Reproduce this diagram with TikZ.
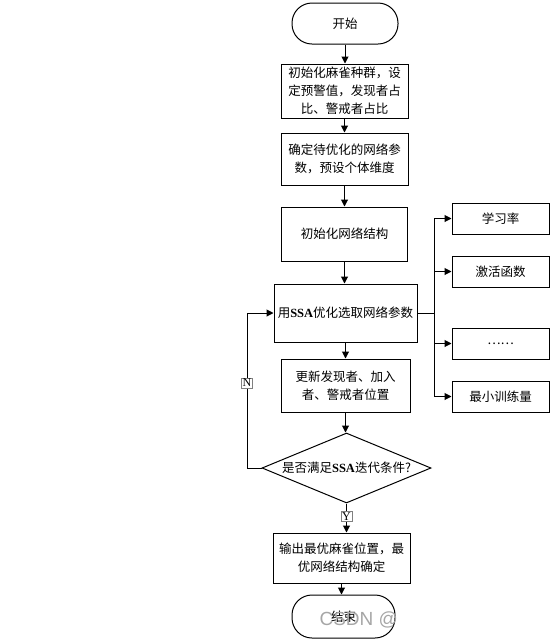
\documentclass[tikz,border=0pt]{standalone}
\usepackage{fontspec}
\setmainfont{Liberation Serif}
\newfontfamily\cjk{Noto Sans CJK SC}
\newfontfamily\wmfont{Liberation Sans}
\usetikzlibrary{arrows.meta,shapes.geometric}
\tikzset{
  base/.style={draw, line width=1pt, inner sep=0pt, align=center,
    font=\cjk\fontsize{12.5}{18}\selectfont},
  procbox/.style={base, rectangle},
  termbox/.style={base, rectangle, rounded corners=20pt},
  decbox/.style={base, diamond, minimum width=169pt, minimum height=70pt},
  flow/.style={line width=1pt, -{Triangle[length=7pt,width=7pt]}},
  plain/.style={line width=1pt},
  yn/.style={draw=gray, line width=0.4pt, fill=white, inner sep=1pt,
    font=\fontsize{12}{12}\selectfont}
}
\begin{document}
\begin{tikzpicture}[x=1pt,y=-1pt]
\useasboundingbox (0,0) rectangle (554,641);
\node[termbox, minimum width=106pt, minimum height=41pt] (start) at (345,23.5) {开始};
\node[procbox, minimum width=127pt, minimum height=54pt] (b1) at (344.5,91) {初始化麻雀种群，设\\定预警值，发现者占\\比、警戒者占比};
\node[procbox, minimum width=127pt, minimum height=52pt] (b2) at (344.5,159) {确定待优化的网络参\\数，预设个体维度};
\node[procbox, minimum width=126pt, minimum height=54pt] (b3) at (344.5,234) {初始化网络结构};
\node[procbox, minimum width=143pt, minimum height=58pt] (b4) at (345.5,313) {用{\rmfamily\bfseries SSA}优化选取网络参数};
\node[procbox, minimum width=129pt, minimum height=53pt] (b5) at (345.5,385.5) {更新发现者、加入\\者、警戒者位置};
\node[decbox] (d) at (346.5,468) {\makebox[0pt]{是否满足{\rmfamily\bfseries SSA}迭代条件?}};
\node[procbox, minimum width=137pt, minimum height=50pt] (b6) at (341.5,558) {输出最优麻雀位置，最\\优网络结构确定};
\node[termbox, minimum width=103pt, minimum height=43pt] (end) at (343.5,616.5) {结束};

\node[procbox, minimum width=97pt, minimum height=31pt] (ra) at (500.5,218.5) {学习率};
\node[procbox, minimum width=97pt, minimum height=31pt] (rb) at (500.5,271.5) {激活函数};
\node[procbox, minimum width=97pt, minimum height=31pt] (rc) at (500.5,343.5) {……};
\node[procbox, minimum width=97pt, minimum height=31pt] (rd) at (500.5,396.5) {最小训练量};

\draw[flow] (start) -- (start |- b1.north);
\draw[flow] (b1) -- (b1 |- b2.north);
\draw[flow] (b2) -- (b2 |- b3.north);
\draw[flow] (b3) -- (b3 |- b4.north);
\draw[flow] (b4) -- (b4 |- b5.north);
\draw[flow] (b5) -- (b5 |- d.north);
\draw[flow] (d.south) -- (d.south |- b6.north) node[yn, pos=0.45] (ylab) {Y};
\draw[flow] (b6) -- (b6 |- end.north);

\coordinate (lp) at (247,468);
\draw[flow] (d.west) -- (lp) -- (lp |- b4.west) -- (b4.west);
\node[yn] (nlab) at (247,383) {N};

\coordinate (br) at (434,313);
\draw[plain] (b4.east) -- (br);
\draw[plain] (br |- ra.west) -- (br |- rd.west);
\draw[flow] (br |- ra.west) -- (ra.west);
\draw[flow] (br |- rb.west) -- (rb.west);
\draw[flow] (br |- rc.west) -- (rc.west);
\draw[flow] (br |- rd.west) -- (rd.west);

\node[anchor=west, text=gray!70, font=\wmfont\fontsize{19}{19}\selectfont] (wm) at (316,620) {CSDN @};
\end{tikzpicture}
\end{document}
